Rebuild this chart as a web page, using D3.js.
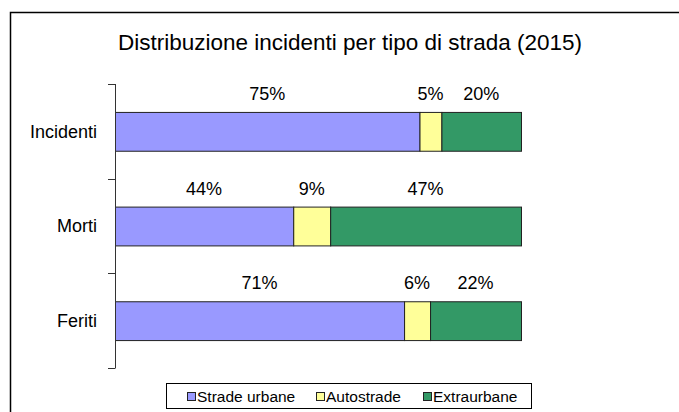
<!DOCTYPE html>
<html>
<head>
<meta charset="utf-8">
<script src="https://cdn.jsdelivr.net/npm/d3@7"></script>
<style>
  body { margin: 0; background: #fff; }
  text { font-family: "Liberation Sans", Arial, sans-serif; fill: #000; }
</style>
</head>
<body>
<div id="chart"></div>
<script>
// categories and series (percent shares)
let categories = ["Incidenti", "Morti", "Feriti"],
    seriesNames = ["Strade urbane", "Autostrade", "Extraurbane"],
    urbane = [75.0, 43.9, 71.2],
    autostrade = [5.4, 9.1, 6.4],
    extraurbane = [19.6, 47.0, 22.4],
    colors = ["#9999FF", "#FFFF99", "#339966"],
    width = 679, height = 412,
    margin = ({top: 84, right: 158, bottom: 44, left: 115});

let rows = categories.map((c, i) => ({
    cat: c, "Strade urbane": urbane[i], "Autostrade": autostrade[i], "Extraurbane": extraurbane[i]
}));

let series = d3.stack().keys(seriesNames)(rows);

let x = d3.scaleLinear()
    .domain([0, 100])
    .range([margin.left, width - margin.right]);
let y = d3.scaleBand()
    .domain(categories)
    .range([margin.top, height - margin.bottom])
    .paddingInner(0.59).paddingOuter(0.295);
let color = d3.scaleOrdinal().domain(seriesNames).range(colors);

const svg = d3.select("#chart").append("svg")
    .attr("width", width).attr("height", height);

// outer frame (runs off the right and bottom edge)
svg.append("rect")
    .attr("x", 10.5).attr("y", 12.5)
    .attr("width", width + 20).attr("height", height + 20)
    .attr("fill", "none").attr("stroke", "#000").attr("stroke-width", 1.5);

svg.append("text")
    .attr("x", 350).attr("y", 50)
    .attr("text-anchor", "middle")
    .attr("font-size", 22.5)
    .text("Distribuzione incidenti per tipo di strada (2015)");

// bars
svg.append("g")
  .selectAll("g")
  .data(series)
  .join("g")
    .attr("fill", d => color(d.key))
  .selectAll("rect")
  .data(d => d)
  .join("rect")
    .attr("x", d => x(d[0]) + 0.5)
    .attr("y", d => y(d.data.cat) + 0.5)
    .attr("width", d => x(d[1]) - x(d[0]))
    .attr("height", y.bandwidth())
    .attr("stroke", "#222").attr("stroke-width", 1);

// percent labels above each segment
svg.append("g")
  .selectAll("g")
  .data(series)
  .join("g")
  .selectAll("text")
  .data(d => d)
  .join("text")
    .attr("x", d => (x(d[0]) + x(d[1])) / 2)
    .attr("y", d => y(d.data.cat) - 12)
    .attr("text-anchor", "middle")
    .attr("font-size", 18)
    .text(d => Math.round(d[1] - d[0]) + "%");

// category axis with ticks between categories
let axisG = svg.append("g").attr("transform", `translate(${margin.left},0)`);
let step = y.step();
axisG.append("line")
    .attr("x1", 0.5).attr("x2", 0.5)
    .attr("y1", margin.top).attr("y2", height - margin.bottom)
    .attr("stroke", "#333");
axisG.selectAll("line.tick")
  .data(d3.range(categories.length + 1))
  .join("line")
    .attr("class", "tick")
    .attr("x1", -7).attr("x2", 0.5)
    .attr("y1", i => Math.round(margin.top + i * step) + 0.5)
    .attr("y2", i => Math.round(margin.top + i * step) + 0.5)
    .attr("stroke", "#333");
axisG.selectAll("text")
  .data(categories)
  .join("text")
    .attr("x", -18)
    .attr("y", d => y(d) + y.bandwidth() / 2)
    .attr("dy", "0.35em")
    .attr("text-anchor", "end")
    .attr("font-size", 18)
    .text(d => d);

// legend
let legend = svg.append("g");
legend.append("rect")
    .attr("x", 166.5).attr("y", 383.5)
    .attr("width", 365).attr("height", 25)
    .attr("fill", "#fff").attr("stroke", "#000");
let legendX = [187, 316, 423];
let items = legend.selectAll("g")
  .data(seriesNames)
  .join("g")
    .attr("transform", (d, i) => `translate(${legendX[i]},392)`);
items.append("rect")
    .attr("x", 0.5).attr("y", 0.5)
    .attr("width", 8).attr("height", 8)
    .attr("fill", d => color(d)).attr("stroke", "#222");
items.append("text")
    .attr("x", 10).attr("y", 4.5)
    .attr("dy", "0.35em")
    .attr("font-size", 15.5)
    .text(d => d);
</script>
</body>
</html>
